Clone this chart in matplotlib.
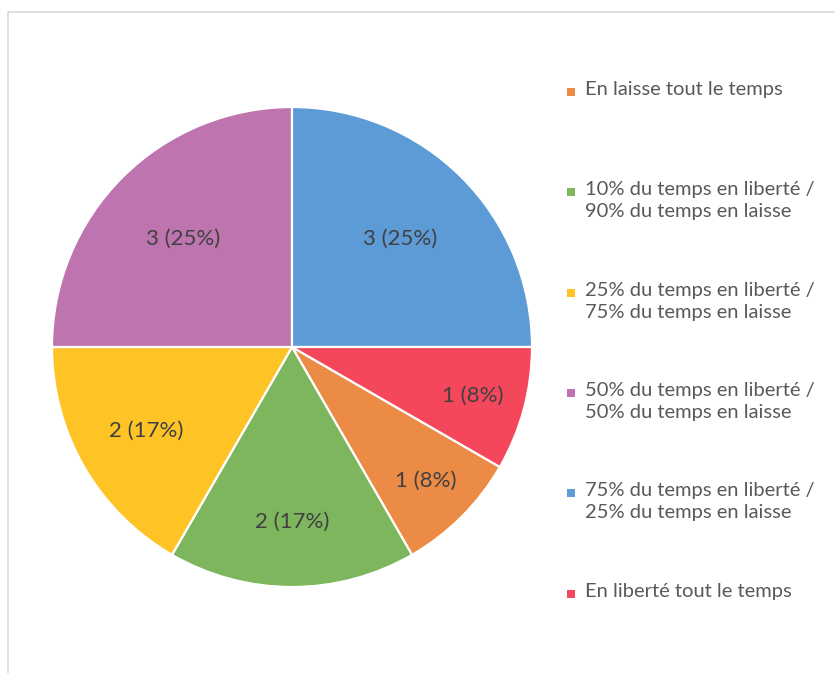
import numpy as np
import matplotlib
matplotlib.use("Agg")
import matplotlib.pyplot as plt
from matplotlib.patches import Rectangle

# Données ###############################################################
categories = [
    "En laisse tout le temps",
    "10% du temps en liberté /\n90% du temps en laisse",
    "25% du temps en liberté /\n75% du temps en laisse",
    "50% du temps en liberté /\n50% du temps en laisse",
    "75% du temps en liberté /\n25% du temps en laisse",
    "En liberté tout le temps",
]
valeurs = [1, 2, 2, 3, 3, 1]
couleurs = ["#EC8B45", "#7DB65D", "#FEC325", "#BE74AE", "#5C9BD6", "#F5475B"]

# distance des étiquettes au centre (fraction du rayon)
dist_etiquettes = [0.79, 0.73, 0.70, 0.64, 0.64, 0.78]

plt.rcParams['font.family'] = ['Lato', 'DejaVu Sans']
texte_gris = "#404040"

fig = plt.figure(figsize=(8.35, 6.73), dpi=100)

# cadre gris clair du graphique
fig.add_artist(Rectangle((8 / 835, -0.05), 1.0, 1.05 - 12 / 673,
                         transform=fig.transFigure, fill=False,
                         edgecolor="#d9d9d9", linewidth=1.2))

# Camembert #############################################################
ax = fig.add_axes([52 / 835, 1 - 587 / 673, 480 / 835, 480 / 673])
wedges, _ = ax.pie(valeurs, colors=couleurs, startangle=-30, counterclock=False,
                   radius=1.0,
                   wedgeprops=dict(edgecolor="white", linewidth=1.6))
ax.set_xlim(-1, 1)
ax.set_ylim(-1, 1)
ax.set_aspect("equal")
ax.axis("off")

total = sum(valeurs)
for w, v, d in zip(wedges, valeurs, dist_etiquettes):
    ang = np.deg2rad((w.theta1 + w.theta2) / 2)
    pct = round(100 * v / total)
    ax.text(d * np.cos(ang), d * np.sin(ang), f"{v} ({pct}%)",
            ha="center", va="center", fontsize=16, color=texte_gris)

# Légende ###############################################################
y0 = 92
pas = 100.3
for i, (lab, c) in enumerate(zip(categories, couleurs)):
    y = y0 + i * pas
    fig.add_artist(Rectangle((567 / 835, 1 - (y + 4) / 673), 8 / 835, 8 / 673,
                             transform=fig.transFigure, facecolor=c,
                             edgecolor="none"))
    fig.text(585 / 835, 1 - (y - 11) / 673, lab, ha="left", va="top",
             fontsize=14.5, color="#595959", linespacing=1.36)

fig.savefig("out.png", dpi=100)
